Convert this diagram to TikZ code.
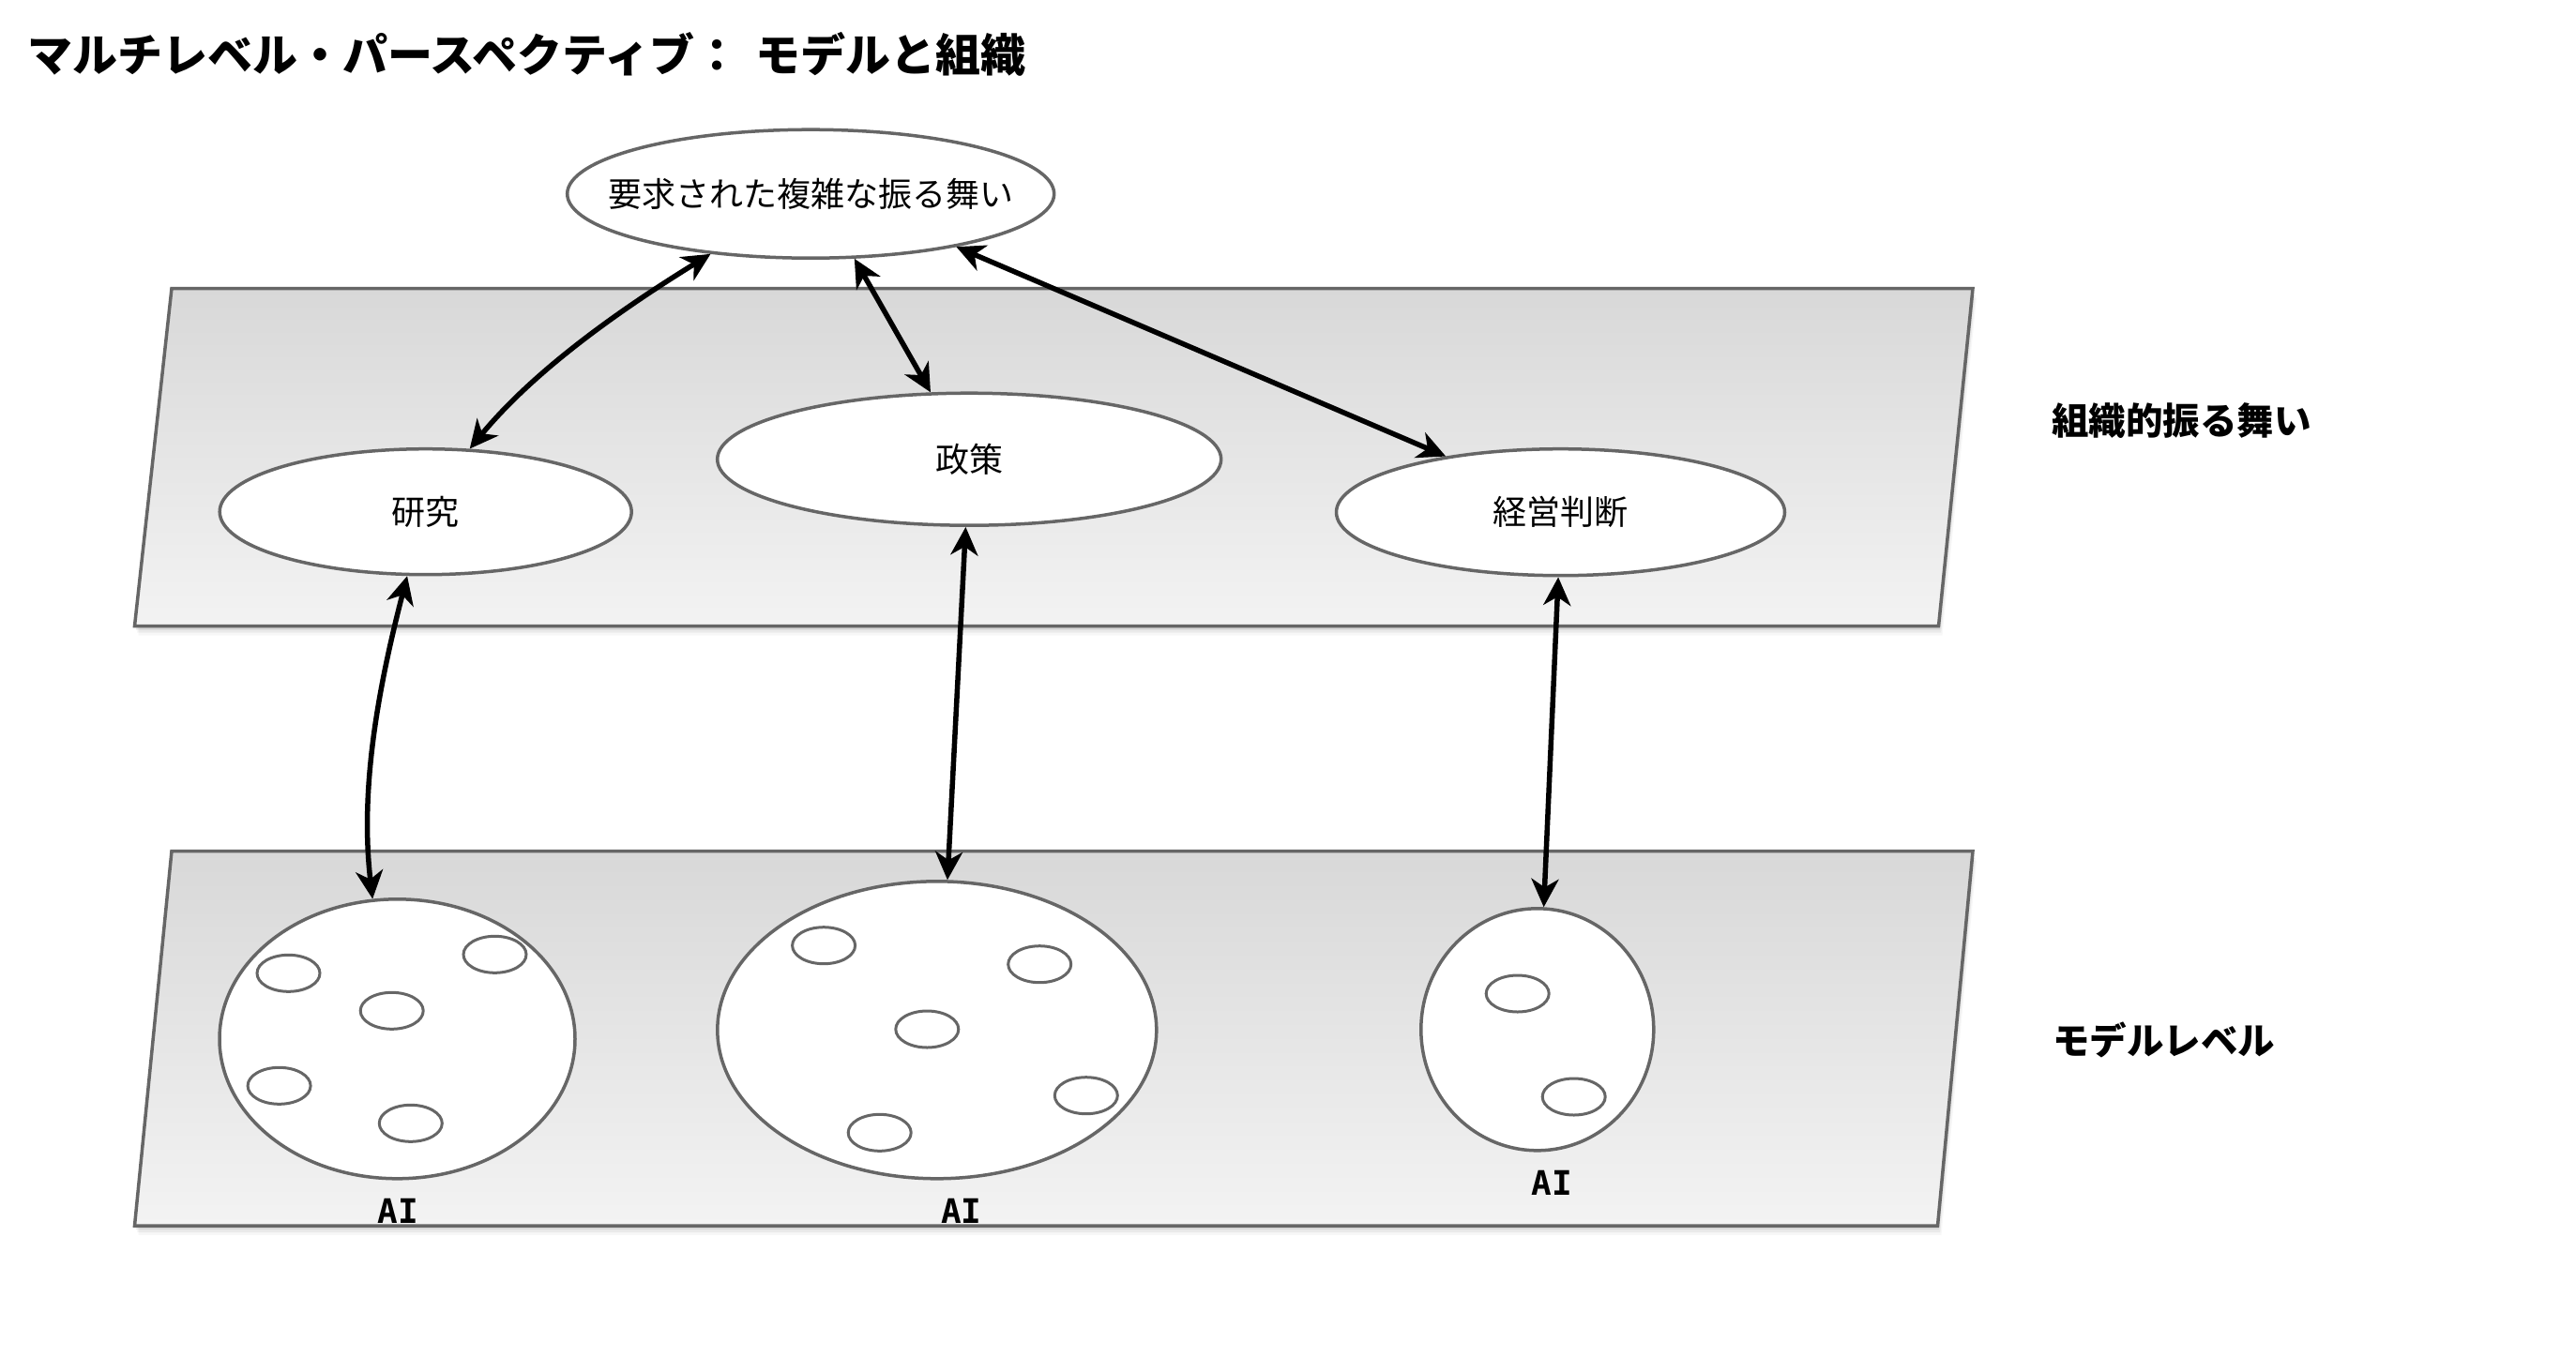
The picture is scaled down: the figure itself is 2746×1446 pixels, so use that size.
\documentclass[tikz,border=0pt]{standalone}
\usepackage{fontspec}
\newfontfamily\jpfont{Noto Sans CJK JP}
\newfontfamily\aimono{DejaVu Sans Mono}
\usetikzlibrary{arrows.meta,shapes.geometric}
\definecolor{edgegray}{HTML}{666666}
\definecolor{planetop}{HTML}{D8D8D8}
\definecolor{planebot}{HTML}{F3F3F3}
\tikzset{
  lbl/.style={font=\jpfont\fontsize{36}{40}\selectfont, text=black, inner sep=0pt},
  sidelbl/.style={font=\jpfont\bfseries\fontsize{39.5}{44}\selectfont, text=black, inner sep=0pt, anchor=west},
  ailbl/.style={font=\aimono\bfseries\fontsize{36}{40}\selectfont, text=black, inner sep=0pt},
  oval/.style={ellipse, draw=edgegray, line width=3.5pt, fill=white, inner sep=0pt},
  pebble/.style={ellipse, draw=edgegray, line width=3pt, fill=white, minimum width=67pt, minimum height=39pt, inner sep=0pt},
  link/.style={line width=5.5pt, draw=black, {Stealth[length=30pt,width=29pt,inset=9pt]}-{Stealth[length=30pt,width=29pt,inset=9pt]}},
  plane/.style={draw=edgegray, line width=3.5pt, top color=planetop, bottom color=planebot, line join=miter},
  planeshadow/.style={fill=black, draw=none},
}
\begin{document}
\begin{tikzpicture}[x=1pt,y=-1pt]
\useasboundingbox (0,0) rectangle (2746,1446);
\fill[white] (0,0) rectangle (2746,1446);

% title
\node[font=\jpfont\bfseries\fontsize{48}{52}\selectfont, anchor=west, inner sep=0pt] (title) at (29,57.5) {マルチレベル・パースペクティブ：\hspace{17pt}モデルと組織};

% plane shadows
\foreach \d/\o in {10/0.03,7/0.05,4/0.08}{
  \fill[planeshadow, opacity=\o, shift={(\d*0.4,\d)}] (183,307.5) -- (2103,307.5) -- (2066.5,667.5) -- (143.5,667.5) -- cycle;
  \fill[planeshadow, opacity=\o, shift={(\d*0.4,\d)}] (183,907.5) -- (2103,907.5) -- (2065.5,1307) -- (143.5,1307) -- cycle;
}
% planes
\path[plane] (183,307.5) -- (2103,307.5) -- (2066.5,667.5) -- (143.5,667.5) -- cycle;
\path[plane] (183,907.5) -- (2103,907.5) -- (2065.5,1307) -- (143.5,1307) -- cycle;

% side labels
\node[sidelbl] (orglbl) at (2187,449) {組織的振る舞い};
\node[sidelbl] (modlbl) at (2188,1109) {モデルレベル};

% organisation level
\node[oval, minimum width=519pt, minimum height=137pt, label={[lbl]center:要求された複雑な振る舞い}] (top) at (864.2,206.7) {};
\node[oval, minimum width=439pt, minimum height=134pt, label={[lbl]center:研究}] (res) at (453.7,545.7) {};
\node[oval, minimum width=537pt, minimum height=141pt, label={[lbl]center:政策}] (pol) at (1033.2,489.7) {};
\node[oval, minimum width=478pt, minimum height=135pt, label={[lbl]center:経営判断}] (mgt) at (1663.5,546.2) {};

% model level
\node[oval, minimum width=379pt, minimum height=298pt] (ai1) at (423.5,1107.8) {};
\node[oval, minimum width=468pt, minimum height=317pt] (ai2) at (998.8,1098.3) {};
\node[oval, minimum width=248pt, minimum height=258pt] (ai3) at (1638.8,1097.8) {};

\node[pebble] (p11) at (307.5,1037.8) {};
\node[pebble] (p12) at (527.5,1017.8) {};
\node[pebble] (p13) at (417.7,1077.8) {};
\node[pebble] (p14) at (297.6,1157.8) {};
\node[pebble] (p15) at (437.8,1197.8) {};

\node[pebble] (p21) at (878.1,1008.2) {};
\node[pebble] (p22) at (1108.2,1028.2) {};
\node[pebble] (p23) at (988.3,1097.5) {};
\node[pebble] (p24) at (1157.8,1168.2) {};
\node[pebble] (p25) at (937.7,1207.8) {};

\node[pebble] (p31) at (1617.7,1059.5) {};
\node[pebble] (p32) at (1677.7,1169.5) {};

\node[ailbl] (ai1lbl) at (424.6,1291) {AI};
\node[ailbl] (ai2lbl) at (1024.7,1291.7) {AI};
\node[ailbl] (ai3lbl) at (1654,1261.7) {AI};

% connectors
\draw[link] (top.211.3) .. controls +(-94,58) and +(70,-85) .. (res.55.8);
\draw[link] (top.-56.3) -- (pol.120.8);
\draw[link] (top.-20) -- (mgt.154.9);
\draw[link] (res.254.7) .. controls +(-30,116) and +(-14,-119) .. (ai1.100.7);
\draw[link] (pol.267.5) -- (ai2.86.3);
\draw[link] (mgt.268.7) -- (ai3.87);
\end{tikzpicture}
\end{document}
